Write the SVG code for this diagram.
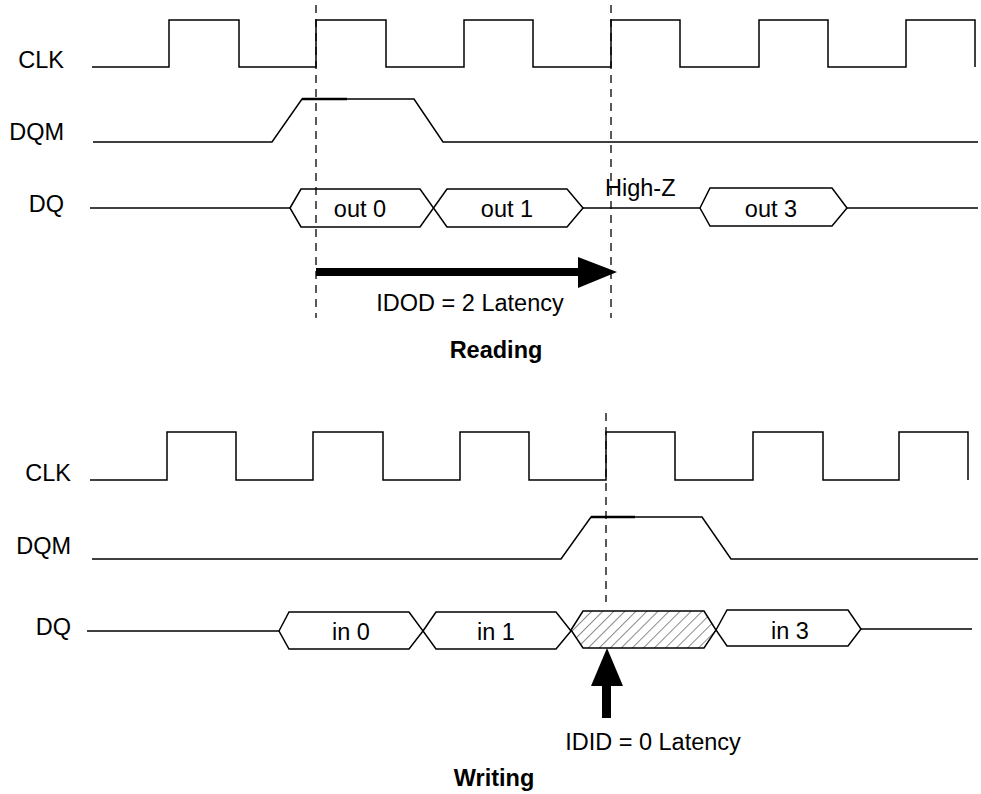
<svg xmlns="http://www.w3.org/2000/svg" width="981" height="794" viewBox="0 0 981 794">
<defs>
<style>
.w{fill:none;stroke:#000;stroke-width:1.5;stroke-linejoin:miter}
.hx{fill:#fff;stroke:#000;stroke-width:1.5}
.dash{fill:none;stroke:#000;stroke-width:1.3;stroke-dasharray:8,6}
.t{font-family:"Liberation Sans",Arial,sans-serif;font-size:23.5px;fill:#000}
.lbl{text-anchor:end}
.c{text-anchor:middle}
.b{font-weight:bold}
</style>
<pattern id="hatch" width="7.8" height="7.8" patternUnits="userSpaceOnUse" patternTransform="rotate(45)">
<line x1="0" y1="0" x2="0" y2="7.8" stroke="#000" stroke-width="0.9"/>
</pattern>
</defs>
<rect width="981" height="794" fill="#fff"/>

<!-- READING -->
<g id="read-labels">
<text class="t lbl" x="64" y="68">CLK</text>
<text class="t lbl" x="64" y="140">DQM</text>
<text class="t lbl" x="64" y="212">DQ</text>
</g>
<g id="read-clk">
<path class="w" d="M92,67 H169 V20 H239 V67 H316 V20 H386 V67 H464 V20 H533 V67 H611 V20 H680 V67 H759 V20 H828 V67 H906 V20 H975 V67"/>
</g>
<g id="read-dqm">
<path class="w" d="M93,142 H272 L302,99 H414 L443,142 H978"/>
<line x1="302" y1="99" x2="347" y2="99" stroke="#000" stroke-width="2.5"/>
</g>
<g id="read-dq">
<path class="w" d="M90,208 H290"/>
<path class="w" d="M583,208 H700"/>
<path class="w" d="M847,208 H978"/>
<polygon class="hx" points="290,208 301,189 420,189 433.5,208 420,227 301,227"/>
<polygon class="hx" points="433.5,208 447,189 567,189 583,208 567,227 447,227"/>
<polygon class="hx" points="700,208 710,188 832,188 847,208 832,226 710,226"/>
<text class="t c" x="360" y="217">out 0</text>
<text class="t c" x="507" y="217">out 1</text>
<text class="t c" x="771" y="217">out 3</text>
<text class="t" x="605" y="196">High-Z</text>
</g>
<g id="read-connectors">
<line class="dash" x1="316" y1="5" x2="316" y2="318"/>
<line class="dash" x1="611" y1="5" x2="611" y2="318"/>
<rect x="316" y="268" width="263" height="8" fill="#000"/>
<polygon points="578,257 617,272 578,288" fill="#000"/>
</g>
<g id="read-caption">
<text class="t c" x="470" y="311">IDOD = 2 Latency</text>
<text class="t c b" x="496" y="358">Reading</text>
</g>

<!-- WRITING -->
<g id="write-labels">
<text class="t lbl" x="71" y="481">CLK</text>
<text class="t lbl" x="71" y="554">DQM</text>
<text class="t lbl" x="71" y="635">DQ</text>
</g>
<g id="write-clk">
<path class="w" d="M90,480 H167 V432 H236 V480 H313 V432 H383 V480 H460 V432 H529 V480 H606 V432 H675 V480 H753 V432 H823 V480 H899 V432 H968 V480"/>
</g>
<g id="write-dqm">
<path class="w" d="M92,559 H561 L591,517 H702 L731,559 H978"/>
<line x1="591" y1="517" x2="635" y2="517" stroke="#000" stroke-width="2.5"/>
</g>
<g id="write-dq">
<path class="w" d="M87,631 H279"/>
<path class="w" d="M861,629 H972"/>
<polygon class="hx" points="279,631 289,612 409,612 423,631 409,649 289,649"/>
<polygon class="hx" points="423,631 436,612 556,612 571,631 556,649 436,649"/>
<polygon points="571,630 583,611 704,611 716,630 704,648 583,648" fill="url(#hatch)" stroke="#000" stroke-width="1.5"/>
<polygon class="hx" points="716,630 727,610 848,610 861,629 848,646 727,646"/>
<text class="t c" x="351" y="640">in 0</text>
<text class="t c" x="496" y="640">in 1</text>
<text class="t c" x="790" y="639">in 3</text>
</g>
<g id="write-connectors">
<line class="dash" x1="606" y1="413" x2="606" y2="602"/>
<rect x="602" y="685" width="9" height="33" fill="#000"/>
<polygon points="607,648 623,686 591,686" fill="#000"/>
</g>
<g id="write-caption">
<text class="t c" x="653" y="750">IDID = 0 Latency</text>
<text class="t c b" x="494" y="786">Writing</text>
</g>
</svg>
